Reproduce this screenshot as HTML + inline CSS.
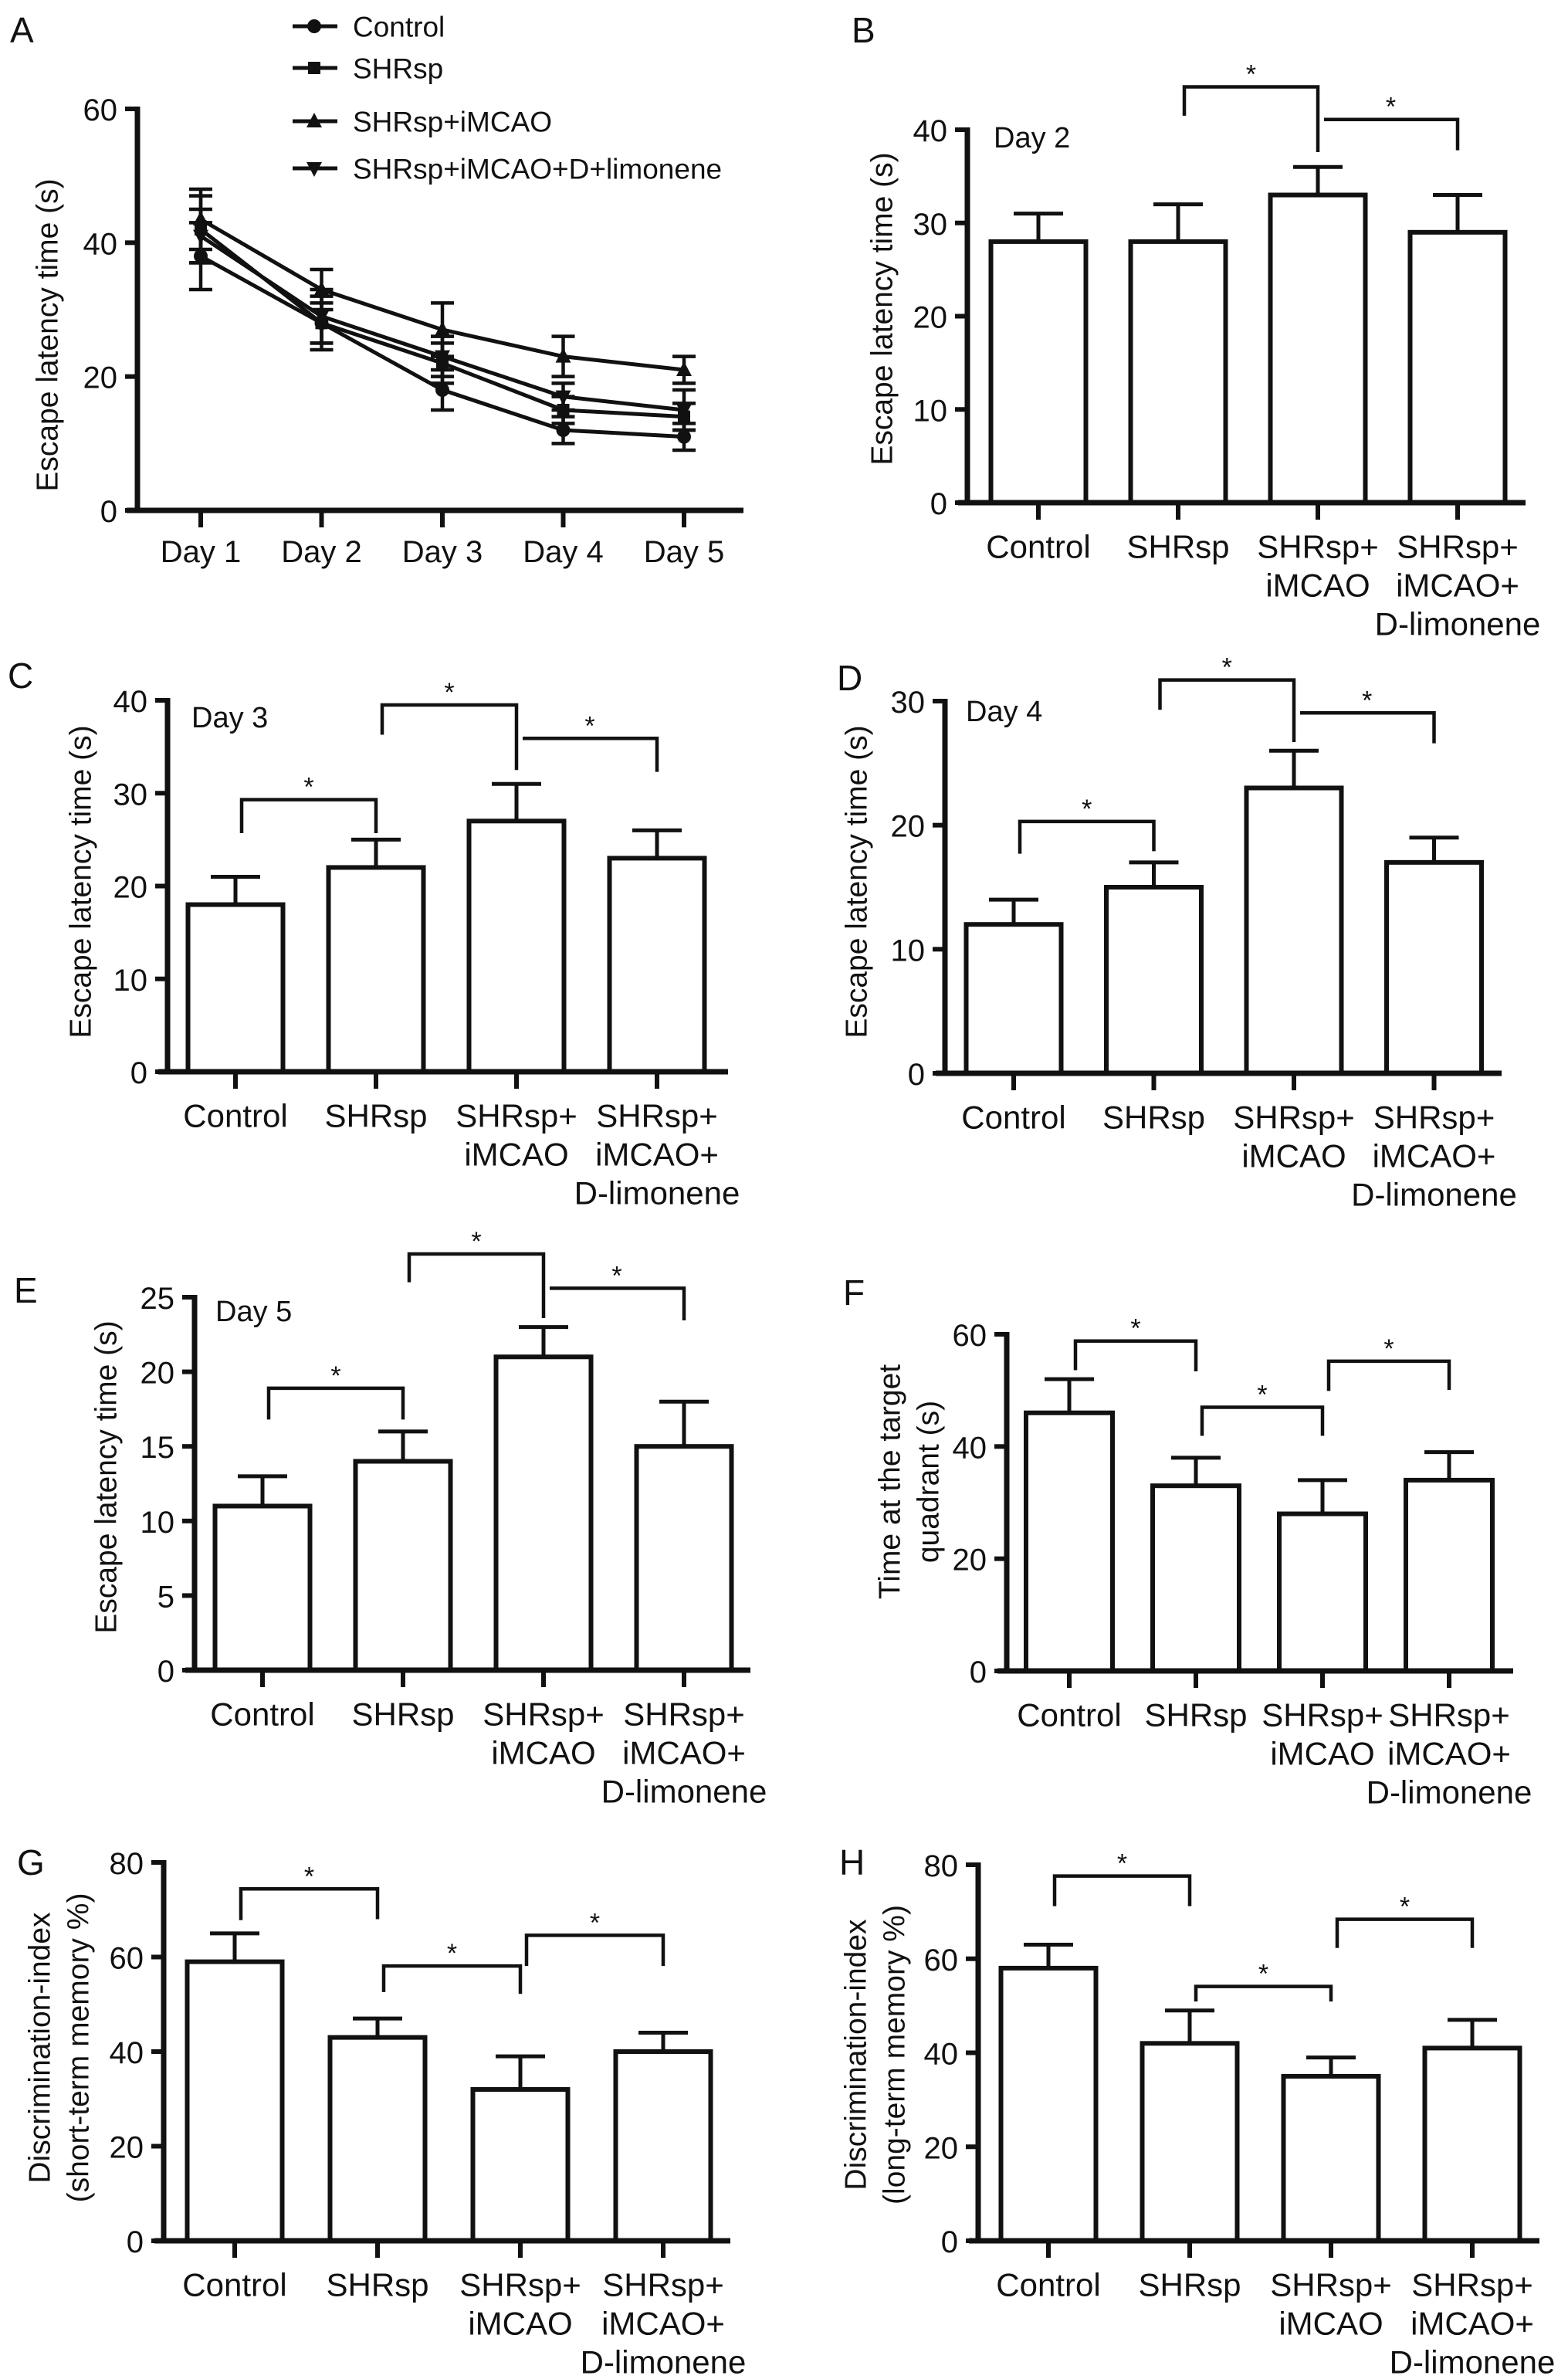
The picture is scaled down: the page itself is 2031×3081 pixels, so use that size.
<!DOCTYPE html>
<html><head><meta charset="utf-8">
<style>
html,body{margin:0;padding:0;background:#fff;}
svg{display:block;}
text{font-family:"Liberation Sans",Arial,sans-serif;fill:#111;}
</style></head>
<body>
<svg id="fig" width="2031" height="3081" viewBox="0 0 2031 3081" xmlns="http://www.w3.org/2000/svg"></svg>
<script>
// ---------- DATA ----------
const groups = ["Control","SHRsp","SHRsp+iMCAO","SHRsp+iMCAO+D+limonene"];
const days = ["Day 1","Day 2","Day 3","Day 4","Day 5"];
const lineControl = [38,28,18,12,11];
const lineSHRsp   = [42,28,22,15,14];
const lineIMCAO   = [43.5,33,27,23,21];
const lineDlim    = [41,29,23,17,15];
const errControl = [5,3,3,2,2];
const errSHRsp   = [5,4,3,2,2];
const errIMCAO   = [4.5,3,4,3,2];
const errDlim    = [4,4,3,2,3];
const aTicks = [0,20,40,60];

const cats = [["Control"],["SHRsp"],["SHRsp+","iMCAO"],["SHRsp+","iMCAO+","D-limonene"]];

const bMeans = [28,28,33,29]; const bErr = [3,4,3,4]; const bTicks=[0,10,20,30,40];
const cMeans = [18,22,27,23]; const cErr = [3,3,4,3]; const cTicks=[0,10,20,30,40];
const dMeans = [12,15,23,17]; const dErr = [2,2,3,2]; const dTicks=[0,10,20,30];
const eMeans = [11,14,21,15]; const eErr = [2,2,2,3]; const eTicks=[0,5,10,15,20,25];
const fMeans = [46,33,28,34]; const fErr = [6,5,6,5]; const fTicks=[0,20,40,60];
const gMeans = [59,43,32,40]; const gErr = [6,4,7,4]; const gTicks=[0,20,40,60,80];
const hMeans = [58,42,35,41]; const hErr = [5,7,4,6]; const hTicks=[0,20,40,60,80];
// brackets: [from, to, level, leftLegEnd, rightLegEnd] in data units
const bBr = [[1,2,44.6,41.5,37.6],[2,3,41.1,41.1,37.8]];
const cBr = [[0,1,29.3,25.7,25.7],[1,2,39.5,36.3,32.5],[2,3,35.9,35.9,32.3]];
const dBr = [[0,1,20.3,17.7,17.9],[1,2,31.7,29.3,26.7],[2,3,29.05,29.05,26.6]];
const eBr = [[0,1,18.9,16.8,16.8],[1,2,27.9,26.0,23.6],[2,3,25.6,25.6,23.45]];
const fBr = [[0,1,58.8,53.6,53.4],[1,2,47,41.9,41.9],[2,3,55.2,49.9,50.1]];
const gBr = [[0,1,74.4,67.8,68],[1,2,58.1,52.6,52.2],[2,3,64.6,58.1,58.1]];
const hBr = [[0,1,77.6,71.2,71.2],[1,2,54.1,50.9,50.9],[2,3,68.4,62.3,62.3]];

// ---------- HELPERS ----------
const svg = document.getElementById('fig');
const NS = "http://www.w3.org/2000/svg";
function mk(tag, attrs, parent){
  const e = document.createElementNS(NS, tag);
  for (const k in attrs) e.setAttribute(k, attrs[k]);
  (parent||svg).appendChild(e);
  return e;
}
function txt(s, x, y, size, anchor, parent, extra){
  const t = mk('text', Object.assign({x:x, y:y, 'font-size':size, 'text-anchor':anchor||'start', 'dominant-baseline':'central'}, extra||{}), parent);
  t.textContent = s;
  return t;
}

function barPanel(o){
  const g = mk('g', {});
  
  
  const yMax = o.ticks[o.ticks.length-1];
  const Y = v => o.y0 - v / yMax * (o.y0 - o.yTop);
  const X = i => o.x0 + o.first + i * o.step;
  const L = txt(o.letter, o.lx, o.ly, 46, 'start', g);
  
  
  o.means.forEach((m, i) => {
    const cx = X(i), w = o.bw;
    const eb = mk('path', {d:`M${cx} ${Y(m)} V${Y(m+o.err[i])} M${cx-32} ${Y(m+o.err[i])} H${cx+32}`, stroke:'#111', 'stroke-width':5, fill:'none'}, g);
    
    
    const r = mk('rect', {x:cx-w/2, y:Y(m), width:w, height:o.y0-Y(m), fill:'#fff', stroke:'#111', 'stroke-width':6}, g);
    
    
  });
  const ax = mk('path', {d:`M${o.x0} ${o.yTop-3} V${o.y0} M${o.x0-12} ${o.y0} H${o.xEnd}`, stroke:'#111', 'stroke-width':7, fill:'none'}, g);
  
  
  o.ticks.forEach(t => {
    mk('path', {d:`M${o.x0-16} ${Y(t)} H${o.x0}`, stroke:'#111', 'stroke-width':6}, g);
    const tl = txt(String(t), o.x0-26, Y(t)+2, 40, 'end', g);
    
    
  });
  cats.forEach((c, i) => {
    mk('path', {d:`M${X(i)} ${o.y0} V${o.y0+22}`, stroke:'#111', 'stroke-width':6}, g);
    c.forEach((line, k) => {
      const cl = txt(line, X(i), o.y0 + 57 + k*50, 42, 'middle', g);
      
      
    });
  });
  const tg = mk('g', {transform:`translate(${o.tx},${o.ty}) rotate(-90)`}, g);
  
  
  o.title.forEach((line, k) => {
    txt(line, 0, (k - (o.title.length-1)/2) * 50, 39, 'middle', tg);
  });
  if (o.day){
    const d = txt(o.day, o.dx, o.dy, 38, 'start', g);
    
    
  }
  o.br.forEach(b => {
    const x1 = X(b[0]) + 8, x2 = X(b[1]);
    const p = mk('path', {d:`M${x1} ${Y(b[3])} V${Y(b[2])} H${x2} V${Y(b[4])}`, stroke:'#111', 'stroke-width':4.5, fill:'none'}, g);
    
    
    const s = txt('*', (x1+x2)/2, Y(b[2]) - 16, 34, 'middle', g);
    
    
  });
}

// ---------- PANEL A ----------
(function(){
  const g = mk('g', {});
  
  
  const x0 = 178, y0 = 661, yTop = 141, yMax = 60;
  const Y = v => y0 - v / yMax * (y0 - yTop);
  const X = i => 260 + i * 156.5;
  const L = txt('A', 13, 39, 46, 'start', g);
  
  
  mk('path', {d:`M${x0} ${yTop-3} V${y0} M${x0-14} ${y0} H963`, stroke:'#111', 'stroke-width':7, fill:'none'}, g);
  aTicks.forEach(t => {
    mk('path', {d:`M${x0-16} ${Y(t)} H${x0}`, stroke:'#111', 'stroke-width':6}, g);
    const tl = txt(String(t), x0-26, Y(t)+2, 40, 'end', g);
    
    
  });
  days.forEach((d, i) => {
    mk('path', {d:`M${X(i)} ${y0} V${y0+22}`, stroke:'#111', 'stroke-width':6}, g);
    const dl = txt(d, X(i), 715, 40, 'middle', g);
    
    
  });
  const tg = mk('g', {transform:`translate(62,434) rotate(-90)`}, g);
  
  
  txt('Escape latency time (s)', 0, 0, 39, 'middle', tg);

  const series = [lineControl, lineSHRsp, lineIMCAO, lineDlim];
  const errs = [errControl, errSHRsp, errIMCAO, errDlim];
  const shapes = ['circle','square','up','down'];
  function marker(shape, cx, cy, parent){
    if (shape==='circle') return mk('circle', {cx:cx, cy:cy, r:9, fill:'#111'}, parent);
    if (shape==='square') return mk('rect', {x:cx-8, y:cy-8, width:16, height:16, fill:'#111'}, parent);
    if (shape==='up') return mk('path', {d:`M${cx} ${cy-11} L${cx+10} ${cy+8} L${cx-10} ${cy+8}Z`, fill:'#111'}, parent);
    return mk('path', {d:`M${cx} ${cy+11} L${cx+10} ${cy-8} L${cx-10} ${cy-8}Z`, fill:'#111'}, parent);
  }
  series.forEach((s, k) => {
    const sg = mk('g', {}, g);
    
    
    s.forEach((v, i) => {
      const e = errs[k][i];
      mk('path', {d:`M${X(i)} ${Y(v-e)} V${Y(v+e)} M${X(i)-15} ${Y(v-e)} H${X(i)+15} M${X(i)-15} ${Y(v+e)} H${X(i)+15}`, stroke:'#111', 'stroke-width':4.5, fill:'none'}, sg);
    });
    const pl = mk('polyline', {points: s.map((v,i)=>`${X(i)},${Y(v)}`).join(' '), fill:'none', stroke:'#111', 'stroke-width':5}, sg);
    
    
    s.forEach((v, i) => {
      const m = marker(shapes[k], X(i), Y(v), sg);
      
      
    });
  });
  const legY = [34, 88, 157, 218];
  const lg = mk('g', {}, g);
  
  
  groups.forEach((name, k) => {
    const eg = mk('g', {}, lg);
    
    
    mk('path', {d:`M379 ${legY[k]} H437`, stroke:'#111', 'stroke-width':5}, eg);
    marker(shapes[k], 407, legY[k], eg);
    txt(name, 457, legY[k]+1, 37, 'start', eg);
  });
})();

// ---------- BAR PANELS ----------
const ELT = ['Escape latency time (s)'];
barPanel({name:'panel-b-day2', letter:'B', lx:1103, ly:39, x0:1253, xEnd:1976, y0:651, yTop:168, first:92, step:181, bw:123,
  ticks:bTicks, means:bMeans, err:bErr, br:bBr, title:ELT, tx:1143, ty:400, day:'Day 2', dx:1287, dy:179});
barPanel({name:'panel-c-day3', letter:'C', lx:10, ly:875, x0:217, xEnd:943, y0:1388, yTop:907, first:88, step:182, bw:123,
  ticks:cTicks, means:cMeans, err:cErr, br:cBr, title:ELT, tx:105, ty:1142, day:'Day 3', dx:248, dy:930});
barPanel({name:'panel-d-day4', letter:'D', lx:1084, ly:878, x0:1224, xEnd:1945, y0:1390, yTop:908, first:89, step:181.5, bw:123,
  ticks:dTicks, means:dMeans, err:dErr, br:dBr, title:ELT, tx:1110, ty:1142, day:'Day 4', dx:1251, dy:922});
barPanel({name:'panel-e-day5', letter:'E', lx:18, ly:1671, x0:252, xEnd:972, y0:2163, yTop:1680, first:88, step:182, bw:123,
  ticks:eTicks, means:eMeans, err:eErr, br:eBr, title:ELT, tx:138, ty:1913, day:'Day 5', dx:279, dy:1699});
barPanel({name:'panel-f-target-quadrant', letter:'F', lx:1092, ly:1674, x0:1304, xEnd:1960, y0:2164, yTop:1728, first:81, step:164, bw:112,
  ticks:fTicks, means:fMeans, err:fErr, br:fBr, title:['Time at the target','quadrant (s)'], tx:1178, ty:1919});
barPanel({name:'panel-g-short-term-memory', letter:'G', lx:22, ly:2412, x0:212, xEnd:946, y0:2902, yTop:2412, first:92, step:185, bw:123,
  ticks:gTicks, means:gMeans, err:gErr, br:gBr, title:['Discrimination-index','(short-term memory %)'], tx:77, ty:2652});
barPanel({name:'panel-h-long-term-memory', letter:'H', lx:1087, ly:2412, x0:1267, xEnd:1994, y0:2902, yTop:2415, first:91, step:183, bw:123,
  ticks:hTicks, means:hMeans, err:hErr, br:hBr, title:['Discrimination-index','(long-term memory %)'], tx:1134, ty:2661});
</script>
</body></html>
